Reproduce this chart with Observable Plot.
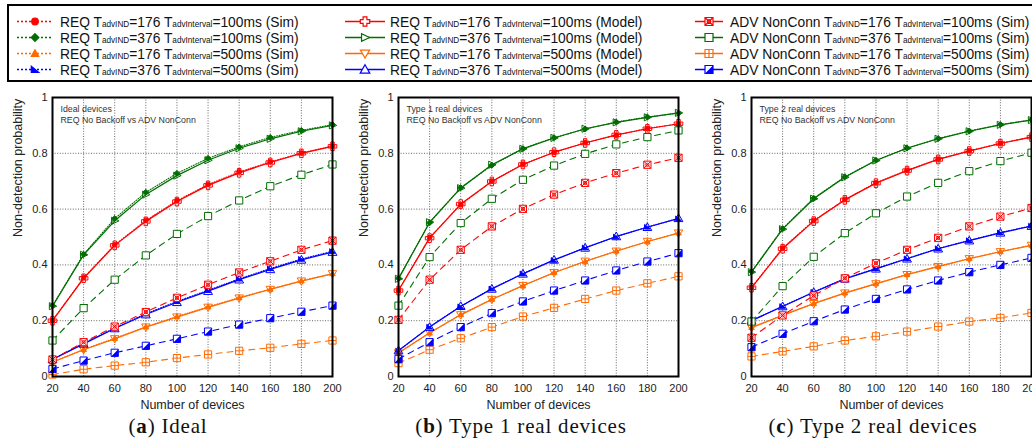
<!DOCTYPE html>
<html>
<head>
<meta charset="utf-8">
<script src="https://cdn.jsdelivr.net/npm/d3@7"></script>
<script src="https://cdn.jsdelivr.net/npm/@observablehq/plot@0.6"></script>
<style>
html, body { margin:0; padding:0; background:#fff; overflow:hidden; }
#root { position:relative; width:1032px; height:446px; overflow:hidden; font-family:"Liberation Sans", Arial, sans-serif; }
.panel { position:absolute; top:85px; }
.panel svg { max-width:none !important; display:block; }
.caption { position:absolute; top:414px; font-family:"Liberation Serif", "Times New Roman", serif; font-size:21px; letter-spacing:0.8px; color:#111; white-space:nowrap; transform:translateX(-50%); }
.caption b { font-weight:bold; }
#legend { position:absolute; left:0; top:0; }
</style>
</head>
<body>
<div id="root">
  <svg id="legend" width="1032" height="85"></svg>
  <div class="panel" id="pa" style="left:0px;width:340px"></div>
  <div class="panel" id="pb" style="left:345px;width:340px"></div>
  <div class="panel" id="pc" style="left:690px;width:350px"></div>
  <div class="caption" style="left:168px">(<b>a</b>) Ideal</div>
  <div class="caption" style="left:521px">(<b>b</b>) Type 1 real devices</div>
  <div class="caption" style="left:873px">(<b>c</b>) Type 2 real devices</div>
</div>
<script>
// ---------------- data ----------------
const xDevices = [20, 40, 60, 80, 100, 120, 140, 160, 180, 200];
const yTicks = [0, 0.2, 0.4, 0.6, 0.8, 1];
const panelTitles = ["Ideal devices", "Type 1 real devices", "Type 2 real devices"];
const panelSubtitle = "REQ No Backoff vs ADV NonConn";
const xLabel = "Number of devices";
const yLabel = "Non-detection probability";

// Panel (a) Ideal devices
const a_req176_100_sim   = [0.201,0.354,0.472,0.559,0.630,0.688,0.733,0.769,0.801,0.826];
const a_req376_100_sim   = [0.254,0.438,0.566,0.660,0.728,0.782,0.823,0.857,0.882,0.903];
const a_req176_500_sim   = [0.052,0.097,0.137,0.178,0.215,0.250,0.283,0.313,0.343,0.369];
const a_req376_500_sim   = [0.062,0.119,0.174,0.225,0.269,0.309,0.350,0.387,0.421,0.449];
const a_req176_100_model = [0.200,0.352,0.470,0.556,0.627,0.685,0.730,0.767,0.800,0.825];
const a_req376_100_model = [0.252,0.436,0.558,0.652,0.720,0.775,0.818,0.852,0.879,0.900];
const a_req176_500_model = [0.051,0.096,0.135,0.177,0.213,0.248,0.281,0.312,0.342,0.368];
const a_req376_500_model = [0.061,0.117,0.172,0.222,0.266,0.306,0.347,0.384,0.418,0.446];
const a_adv176_100       = [0.061,0.123,0.179,0.231,0.282,0.329,0.373,0.413,0.454,0.487];
const a_adv376_100       = [0.129,0.245,0.347,0.434,0.511,0.575,0.631,0.682,0.723,0.760];
const a_adv176_500       = [0.007,0.026,0.039,0.051,0.066,0.079,0.092,0.103,0.117,0.129];
const a_adv376_500       = [0.027,0.057,0.085,0.110,0.135,0.161,0.186,0.209,0.232,0.254];

// Panel (b) Type 1 real devices
const b_req176_100_sim   = [0.309,0.498,0.616,0.700,0.761,0.803,0.838,0.865,0.889,0.905];
const b_req376_100_sim   = [0.352,0.551,0.677,0.757,0.817,0.856,0.887,0.912,0.930,0.944];
const b_req176_500_sim   = [0.085,0.156,0.222,0.277,0.325,0.373,0.412,0.450,0.483,0.515];
const b_req376_500_sim   = [0.092,0.178,0.251,0.315,0.369,0.417,0.462,0.501,0.536,0.566];
const b_req176_100_model = [0.308,0.496,0.618,0.699,0.760,0.804,0.837,0.866,0.888,0.906];
const b_req376_100_model = [0.350,0.553,0.675,0.759,0.816,0.855,0.888,0.911,0.929,0.945];
const b_req176_500_model = [0.084,0.157,0.221,0.276,0.326,0.372,0.413,0.449,0.484,0.514];
const b_req376_500_model = [0.093,0.177,0.252,0.314,0.368,0.418,0.461,0.502,0.535,0.567];
const b_adv176_100       = [0.203,0.347,0.454,0.538,0.601,0.652,0.694,0.729,0.759,0.784];
const b_adv376_100       = [0.254,0.428,0.550,0.637,0.705,0.756,0.798,0.832,0.858,0.882];
const b_adv176_500       = [0.048,0.096,0.137,0.177,0.215,0.246,0.278,0.308,0.334,0.359];
const b_adv376_500       = [0.063,0.123,0.177,0.227,0.269,0.308,0.344,0.380,0.412,0.442];

// Panel (c) Type 2 real devices
const c_req176_100_sim   = [0.319,0.460,0.559,0.634,0.694,0.739,0.779,0.809,0.836,0.859];
const c_req376_100_sim   = [0.376,0.530,0.639,0.716,0.775,0.819,0.853,0.880,0.903,0.920];
const c_req176_500_sim   = [0.176,0.220,0.262,0.300,0.333,0.366,0.395,0.423,0.448,0.471];
const c_req376_500_sim   = [0.201,0.252,0.303,0.351,0.387,0.423,0.459,0.488,0.516,0.540];
const c_req176_100_model = [0.318,0.458,0.557,0.633,0.693,0.738,0.778,0.808,0.835,0.858];
const c_req376_100_model = [0.374,0.528,0.637,0.714,0.774,0.818,0.852,0.879,0.902,0.919];
const c_req176_500_model = [0.175,0.219,0.261,0.299,0.332,0.365,0.394,0.422,0.447,0.470];
const c_req376_500_model = [0.200,0.251,0.302,0.350,0.386,0.422,0.458,0.487,0.515,0.539];
const c_adv176_100       = [0.139,0.219,0.290,0.352,0.406,0.454,0.497,0.538,0.573,0.604];
const c_adv376_100       = [0.197,0.324,0.429,0.514,0.585,0.645,0.694,0.736,0.772,0.802];
const c_adv176_500       = [0.072,0.090,0.108,0.129,0.144,0.161,0.179,0.197,0.210,0.228];
const c_adv376_500       = [0.105,0.153,0.198,0.240,0.278,0.312,0.344,0.374,0.400,0.425];

// ---------------- styles ----------------
const RED = "#ff0000", GREEN = "#006e00", ORANGE = "#ff6a00", BLUE = "#0000ff";

function mk(fn) { return { draw(ctx, size) { const r = Math.sqrt(size / Math.PI); fn(ctx, r); } }; }
function poly(ctx, pts) { ctx.moveTo(pts[0][0], pts[0][1]); for (let i = 1; i < pts.length; i++) ctx.lineTo(pts[i][0], pts[i][1]); ctx.closePath(); }
const symCircle = mk((c, r) => { c.moveTo(r, 0); c.arc(0, 0, r, 0, 2 * Math.PI); });
const symDiamond = mk((c, r) => poly(c, [[0, -r * 1.15], [r * 1.15, 0], [0, r * 1.15], [-r * 1.15, 0]]));
const symTriUp = mk((c, r) => poly(c, [[0, -r], [r, r * 0.75], [-r, r * 0.75]]));
const symTriCorner = mk((c, r) => poly(c, [[-r, -r * 0.9], [r, r * 0.75], [-r, r * 0.75]]));
const symOpenCross = mk((c, r) => { const a = r * 0.4; poly(c, [[-a,-r],[a,-r],[a,-a],[r,-a],[r,a],[a,a],[a,r],[-a,r],[-a,a],[-r,a],[-r,-a],[-a,-a]]); });
const symTriRight = mk((c, r) => poly(c, [[r, 0], [-r * 0.75, -r * 0.85], [-r * 0.75, r * 0.85]]));
const symTriDown = mk((c, r) => poly(c, [[-r, -r * 0.75], [r, -r * 0.75], [0, r]]));
const symSquare = mk((c, r) => c.rect(-r, -r, 2 * r, 2 * r));
const symSquareX = mk((c, r) => { c.rect(-r, -r, 2 * r, 2 * r); c.moveTo(-r, -r); c.lineTo(r, r); c.moveTo(r, -r); c.lineTo(-r, r); const q = r * 0.45; c.moveTo(q, 0); c.arc(0, 0, q, 0, 2 * Math.PI); });
const symSquarePlus = mk((c, r) => { c.rect(-r, -r, 2 * r, 2 * r); c.moveTo(0, -r); c.lineTo(0, r); c.moveTo(-r, 0); c.lineTo(r, 0); });
const symHalf = mk((c, r) => poly(c, [[r, -r], [r, r], [-r, r]]));

const styles = {
  sim:   { dash: "1,1.6", width: 1.1 },
  model: { dash: null,    width: 1.2 },
  adv:   { dash: "6,5",   width: 1.1 }
};

// series meta (order of the legend)
const seriesMeta = [
  { key: "req176_100_sim",   kind: "sim",   color: RED,    sym: symCircle,    r: 2.4, lr: 3.3, fill: "solid", label: ["REQ T", "advIND", "=176 T", "advInterval", "=100ms (Sim)"] },
  { key: "req376_100_sim",   kind: "sim",   color: GREEN,  sym: symDiamond,   r: 2.6, lr: 3.3, fill: "solid", label: ["REQ T", "advIND", "=376 T", "advInterval", "=100ms (Sim)"] },
  { key: "req176_500_sim",   kind: "sim",   color: ORANGE, sym: symTriUp,     r: 2.8, lr: 3.7, fill: "solid", label: ["REQ T", "advIND", "=176 T", "advInterval", "=500ms (Sim)"] },
  { key: "req376_500_sim",   kind: "sim",   color: BLUE,   sym: symTriCorner, r: 2.8, lr: 3.7, fill: "solid", label: ["REQ T", "advIND", "=376 T", "advInterval", "=500ms (Sim)"] },
  { key: "req176_100_model", kind: "model", color: RED,    sym: symOpenCross, r: 4.3, lr: 4.7, fill: "none",  label: ["REQ T", "advIND", "=176 T", "advInterval", "=100ms (Model)"] },
  { key: "req376_100_model", kind: "model", color: GREEN,  sym: symTriRight,  r: 4.2, lr: 4.6, fill: "none",  label: ["REQ T", "advIND", "=376 T", "advInterval", "=100ms (Model)"] },
  { key: "req176_500_model", kind: "model", color: ORANGE, sym: symTriDown,   r: 4.2, lr: 4.6, fill: "none",  label: ["REQ T", "advIND", "=176 T", "advInterval", "=500ms (Model)"] },
  { key: "req376_500_model", kind: "model", color: BLUE,   sym: symTriUp,     r: 4.4, lr: 4.8, fill: "none",  label: ["REQ T", "advIND", "=376 T", "advInterval", "=500ms (Model)"] },
  { key: "adv176_100",       kind: "adv",   color: RED,    sym: symSquareX,   r: 3.6, lr: 4, fill: "white", label: ["ADV NonConn T", "advIND", "=176 T", "advInterval", "=100ms (Sim)"] },
  { key: "adv376_100",       kind: "adv",   color: GREEN,  sym: symSquare,    r: 3.6, lr: 4, fill: "white", label: ["ADV NonConn T", "advIND", "=376 T", "advInterval", "=100ms (Sim)"] },
  { key: "adv176_500",       kind: "adv",   color: ORANGE, sym: symSquarePlus,r: 3.6, lr: 4, fill: "white", label: ["ADV NonConn T", "advIND", "=176 T", "advInterval", "=500ms (Sim)"] },
  { key: "adv376_500",       kind: "adv",   color: BLUE,   sym: symSquare,    r: 3.6, lr: 4, fill: "white", half: true, label: ["ADV NonConn T", "advIND", "=376 T", "advInterval", "=500ms (Sim)"] }
];

const panelData = [
  { req176_100_sim: a_req176_100_sim, req376_100_sim: a_req376_100_sim, req176_500_sim: a_req176_500_sim, req376_500_sim: a_req376_500_sim,
    req176_100_model: a_req176_100_model, req376_100_model: a_req376_100_model, req176_500_model: a_req176_500_model, req376_500_model: a_req376_500_model,
    adv176_100: a_adv176_100, adv376_100: a_adv376_100, adv176_500: a_adv176_500, adv376_500: a_adv376_500 },
  { req176_100_sim: b_req176_100_sim, req376_100_sim: b_req376_100_sim, req176_500_sim: b_req176_500_sim, req376_500_sim: b_req376_500_sim,
    req176_100_model: b_req176_100_model, req376_100_model: b_req376_100_model, req176_500_model: b_req176_500_model, req376_500_model: b_req376_500_model,
    adv176_100: b_adv176_100, adv376_100: b_adv376_100, adv176_500: b_adv176_500, adv376_500: b_adv376_500 },
  { req176_100_sim: c_req176_100_sim, req376_100_sim: c_req376_100_sim, req176_500_sim: c_req176_500_sim, req376_500_sim: c_req376_500_sim,
    req176_100_model: c_req176_100_model, req376_100_model: c_req376_100_model, req176_500_model: c_req176_500_model, req376_500_model: c_req376_500_model,
    adv176_100: c_adv176_100, adv376_100: c_adv376_100, adv176_500: c_adv176_500, adv376_500: c_adv376_500 }
];

const layouts = [
  { el: "#pa", width: 340, marginLeft: 52, marginRight: 8 },
  { el: "#pb", width: 340, marginLeft: 53, marginRight: 7 },
  { el: "#pc", width: 350, marginLeft: 61, marginRight: 9 }
];

// sim underneath, model outlines over it, ADV on top
const drawOrder = ["sim", "model", "adv"];

function seriesMarks(vals) {
  const marks = [];
  for (const kind of drawOrder) {
    for (const s of seriesMeta.filter(m => m.kind === kind)) {
      const st = styles[s.kind];
      marks.push(Plot.lineY(vals[s.key], { x: xDevices, y: d => d, stroke: s.color, strokeWidth: st.width, strokeDasharray: st.dash }));
    }
    for (const s of seriesMeta.filter(m => m.kind === kind)) {
      const v = vals[s.key];
      const fill = s.fill === "solid" ? s.color : s.fill;
      marks.push(Plot.dot(v, { x: xDevices, y: d => d, symbol: s.sym, r: s.r, stroke: s.color, strokeWidth: 1, fill }));
      if (s.half) marks.push(Plot.dot(v, { x: xDevices, y: d => d, symbol: symHalf, r: s.r, fill: s.color, stroke: "none" }));
    }
  }
  return marks;
}

panelData.forEach((vals, i) => {
  const L = layouts[i];
  const chart = Plot.plot({
    width: L.width, height: 330,
    marginLeft: L.marginLeft, marginRight: L.marginRight, marginTop: 12, marginBottom: 39,
    x: { domain: [20, 200] },
    y: { domain: [0, 1] },
    style: { fontFamily: "'Liberation Sans', Arial, sans-serif", fontSize: "11px", color: "#222", background: "transparent", overflow: "visible" },
    marks: [
      Plot.gridX(xDevices.slice(1, -1), { stroke: "#666", strokeOpacity: 1, strokeDasharray: "1,1.6", strokeWidth: 1 }),
      Plot.gridY(yTicks.slice(1, -1), { stroke: "#666", strokeOpacity: 1, strokeDasharray: "1,1.6", strokeWidth: 1 }),
      Plot.axisX(xDevices, { tickSize: 0, tickPadding: 8, fontSize: 11, label: null }),
      Plot.axisY(yTicks, { tickSize: 0, tickPadding: 5, fontSize: 11, tickFormat: d => String(d), label: null }),
      Plot.text([xLabel], { frameAnchor: "bottom", dy: 28, lineAnchor: "middle", fontSize: 12.5, fill: "#222" }),
      Plot.text([yLabel], { frameAnchor: "left", dx: -35, rotate: -90, lineAnchor: "middle", fontSize: 12.5, fill: "#222" }),
      Plot.text([panelTitles[i] + "\n" + panelSubtitle], { frameAnchor: "top-left", dx: 8, dy: 7, textAnchor: "start", lineAnchor: "top", fontSize: 8.8, lineHeight: 1.2, fill: "#333" }),
      ...seriesMarks(vals),
      Plot.frame({ stroke: "black", strokeWidth: 2 })
    ]
  });
  document.querySelector(L.el).appendChild(chart);
});

// ---------------- legend ----------------
const leg = d3.select("#legend");
leg.append("rect").attr("x", 8).attr("y", 5).attr("width", 1100).attr("height", 76)
  .attr("fill", "none").attr("stroke", "black").attr("stroke-width", 2);
const cols = [
  { x0: 17, x1: 53, text: 60 },
  { x0: 345, x1: 385, text: 390 },
  { x0: 695, x1: 723, text: 730 }
];
const rowsY = [21.5, 37.5, 53.5, 69.5];
seriesMeta.forEach((s, i) => {
  const c = cols[Math.floor(i / 4)], y = rowsY[i % 4];
  const st = styles[s.kind];
  leg.append("line").attr("x1", c.x0).attr("x2", c.x1).attr("y1", y).attr("y2", y)
    .attr("stroke", s.color).attr("stroke-width", st.width + 0.4).attr("stroke-dasharray", s.kind === "sim" ? "2,2" : null);
  const cx = (c.x0 + c.x1) / 2;
  const fill = s.fill === "solid" ? s.color : "white";
  const rr = s.lr;
  leg.append("path").attr("d", d3.symbol(s.sym, Math.PI * rr * rr)()).attr("transform", `translate(${cx},${y})`)
    .attr("fill", fill).attr("stroke", s.color).attr("stroke-width", 1.2);
  if (s.half) leg.append("path").attr("d", d3.symbol(symHalf, Math.PI * rr * rr)()).attr("transform", `translate(${cx},${y})`).attr("fill", s.color);
  const t = leg.append("text").attr("x", c.text).attr("y", y + 5).attr("font-family", "'Liberation Sans', Arial, sans-serif").attr("font-size", 13.8).attr("fill", "#111");
  s.label.forEach((part, j) => {
    const ts = t.append("tspan").text(part);
    if (j % 2 === 1) ts.attr("font-size", 8.2);
  });
});
</script>
</body>
</html>
